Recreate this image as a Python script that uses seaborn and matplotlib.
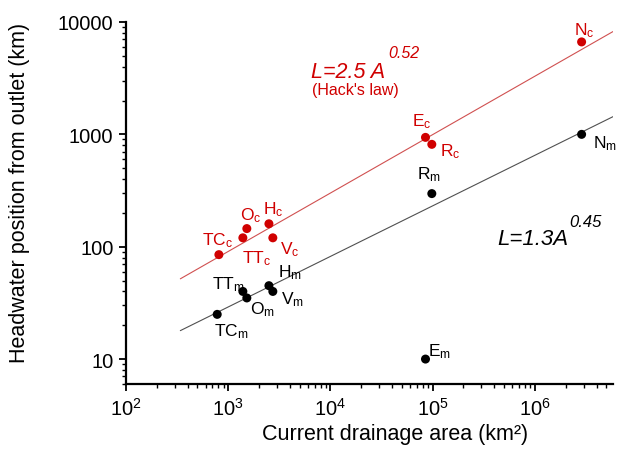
import numpy as np
import pandas as pd
import matplotlib
matplotlib.use("Agg")
import matplotlib.pyplot as plt
from matplotlib.ticker import FuncFormatter, LogLocator
import seaborn as sns

# river names, drainage area (km2), headwater position (km)
names = ["N", "E", "R", "TC", "O", "H", "TT", "V"]
area_c = [2.86e6, 8.5e4, 9.8e4, 810, 1520, 2500, 1390, 2730]
dist_c = [6650, 940, 815, 85, 145, 160, 120, 120]
area_m = [2.86e6, 8.5e4, 9.8e4, 780, 1520, 2500, 1390, 2730]
dist_m = [1000, 10, 297, 25, 35, 45, 40, 40]

# fitted laws L = a * A^b
fit_c = (2.5, 0.52)
fit_m = (1.3, 0.45)
fit_range = (340, 5.8e6)

red = "#d00000"

# label offsets in pixels (text left / baseline relative to point)
offs_c = {"N": (-8, 8), "E": (-13, 12), "R": (8, -11), "TC": (-17, 10),
          "O": (-7, 9), "H": (-6, 10), "TT": (-1, -24), "V": (7, -15)}
offs_m = {"N": (11, -13), "E": (3, 4), "R": (-15, 15), "TC": (-3, -21),
          "O": (3, -15), "H": (9, 9), "TT": (-31, 3), "V": (8, -12)}

sns.set_style("ticks", {"axes.edgecolor": "black", "text.color": "black",
                        "axes.labelcolor": "black", "xtick.color": "black",
                        "ytick.color": "black"})
plt.rcParams["font.family"] = ["Liberation Sans", "DejaVu Sans"]
plt.rcParams["mathtext.fontset"] = "custom"
plt.rcParams["mathtext.rm"] = "Liberation Sans"
plt.rcParams["mathtext.it"] = "Liberation Sans:italic"
plt.rcParams["mathtext.default"] = "regular"

fig = plt.figure(figsize=(6.17, 4.52), dpi=100)
ax = fig.add_axes([126 / 617, 1 - 385 / 452, 487 / 617, 362 / 452])

xs = np.logspace(np.log10(fit_range[0]), np.log10(fit_range[1]), 50)
lines = pd.DataFrame({"x": np.concatenate([xs, xs]),
                      "y": np.concatenate([fit_c[0] * xs ** fit_c[1], fit_m[0] * xs ** fit_m[1]]),
                      "g": ["c"] * len(xs) + ["m"] * len(xs)})
sns.lineplot(data=lines, x="x", y="y", hue="g", palette={"c": "#d05050", "m": "#505050"},
             linewidth=0.8, legend=False, ax=ax)

pts = pd.DataFrame({"x": area_c + area_m, "y": dist_c + dist_m,
                    "g": ["c"] * len(names) + ["m"] * len(names)})
sns.scatterplot(data=pts, x="x", y="y", hue="g", palette={"c": red, "m": "black"},
                s=42, edgecolor="none", legend=False, ax=ax, zorder=3)

for n, a, d in zip(names, area_c, dist_c):
    ax.annotate(n + "$_{c}$", (a, d), xytext=offs_c[n], textcoords="offset pixels",
                ha="left", va="baseline", fontsize=12.5, color=red)
for n, a, d in zip(names, area_m, dist_m):
    ax.annotate(n + "$_{m}$", (a, d), xytext=offs_m[n], textcoords="offset pixels",
                ha="left", va="baseline", fontsize=12.5, color="black")

ax.set_xscale("log")
ax.set_yscale("log")
ax.set_xlim(100, 5.8e6)
ax.set_ylim(6, 10000)
ax.yaxis.set_major_formatter(FuncFormatter(lambda v, p: f"{int(round(v))}"))
ax.xaxis.set_minor_locator(LogLocator(base=10, subs=np.arange(2, 10), numticks=20))
ax.yaxis.set_minor_locator(LogLocator(base=10, subs=np.arange(2, 10), numticks=20))
ax.tick_params(which="major", direction="out", length=5, width=1.3, labelsize=14.5, pad=4)
ax.tick_params(which="minor", direction="out", length=3, width=1.0)
for s in ["left", "bottom"]:
    ax.spines[s].set_linewidth(1.6)
sns.despine(ax=ax)

ax.set_xlabel("Current drainage area (km²)", fontsize=15.5)
ax.set_ylabel("Headwater position from outlet (km)", fontsize=15.5)
ax.xaxis.set_label_coords(0.552, -0.107)
ax.yaxis.set_label_coords(-0.197, 0.53)

fig.text(311 / 617, 1 - 78 / 452, "L=2.5 A", fontsize=15.5, style="italic", color=red,
         ha="left", va="baseline")
fig.text(388 / 617, 1 - 58 / 452, "0.52", fontsize=11.5, style="italic", color=red,
         ha="left", va="baseline")
fig.text(312 / 617, 1 - 95 / 452, "(Hack's law)", fontsize=11.5, color=red,
         ha="left", va="baseline")
fig.text(497 / 617, 1 - 245 / 452, "L=1.3A", fontsize=16, style="italic", color="black",
         ha="left", va="baseline")
fig.text(569 / 617, 1 - 227 / 452, "0.45", fontsize=12, style="italic", color="black",
         ha="left", va="baseline")

fig.savefig("out.png", dpi=100)
